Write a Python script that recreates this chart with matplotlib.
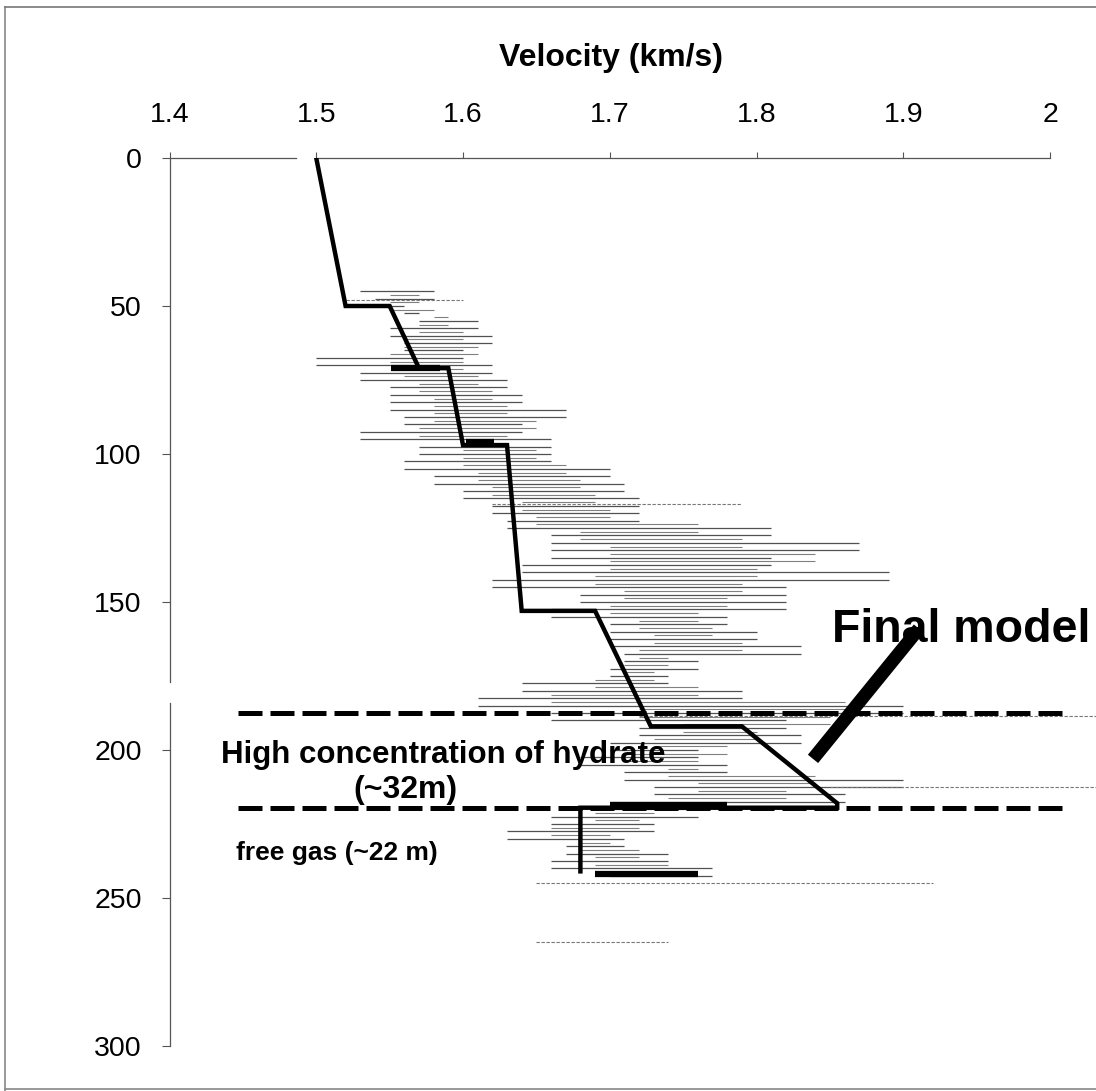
import matplotlib
matplotlib.use("Agg")
import matplotlib.pyplot as plt
from matplotlib.lines import Line2D

plt.rcParams['font.family'] = ['Liberation Sans', 'DejaVu Sans']

# ---- data ----
x_ticks = [1.4, 1.5, 1.6, 1.7, 1.8, 1.9, 2.0]
x_tick_labels = ['1.4', '1.5', '1.6', '1.7', '1.8', '1.9', '2']
y_ticks = [0, 50, 100, 150, 200, 250, 300]

# final velocity model (km/s vs depth m)
model_vel = [1.50, 1.52, 1.55, 1.57, 1.59, 1.60, 1.63, 1.64, 1.69, 1.728, 1.79, 1.855, 1.855, 1.68, 1.68]
model_depth = [0, 50, 50, 71, 71, 97, 97, 153, 153, 192, 192, 218, 219.5, 219.5, 241]

# measured velocity log trace (read from the scribbles)
log_depth = [45, 47.5, 50, 52.5, 55, 57.5, 60, 62.5, 65, 67.5, 70, 72.5, 75, 77.5,
             80, 82.5, 85, 87.5, 90, 92.5, 95, 97.5, 100, 102.5, 105, 107.5, 110,
             112.5, 115, 117.5, 120, 122.5, 125, 127.5, 130, 132.5, 135, 137.5, 140,
             142.5, 145, 147.5, 150, 152.5, 155, 157.5, 160, 162.5, 165, 167.5, 170,
             172.5, 175, 177.5, 180, 182.5, 185, 187.5, 190, 192.5, 195, 197.5, 200,
             202.5, 205, 207.5, 210, 212.5, 215, 217.5, 220, 222.5, 225, 227.5, 230,
             232.5, 235, 237.5, 240, 242.5, 245]
log_vel = [1.53, 1.58, 1.54, 1.56, 1.57, 1.61, 1.55, 1.62, 1.56, 1.60, 1.50, 1.62, 1.53, 1.63,
           1.55, 1.64, 1.55, 1.67, 1.56, 1.64, 1.53, 1.66, 1.57, 1.66, 1.56, 1.70, 1.58,
           1.71, 1.60, 1.72, 1.62, 1.72, 1.63, 1.81, 1.66, 1.87, 1.66, 1.81, 1.64,
           1.89, 1.62, 1.82, 1.68, 1.82, 1.66, 1.78, 1.70, 1.80, 1.70, 1.83, 1.71,
           1.76, 1.70, 1.74, 1.64, 1.79, 1.61, 1.90, 1.66, 1.82, 1.72, 1.83, 1.70,
           1.76, 1.68, 1.78, 1.71, 1.90, 1.73, 1.86, 1.70, 1.76, 1.66, 1.73, 1.63,
           1.71, 1.67, 1.74, 1.66, 1.77, 1.70]

# second, denser part of the log (in-between samples)
log2_depth = [46.25, 48.75, 51.25, 53.75, 56.25, 58.75, 61.25, 63.75, 66.25, 68.75,
              71.25, 73.75, 76.25, 78.75, 81.25, 83.75, 86.25, 88.75, 91.25, 93.75,
              96.25, 98.75, 101.25, 103.75, 106.25, 108.75, 111.25, 113.75, 116.25,
              118.75, 121.25, 123.75, 126.25, 128.75, 131.25, 133.75, 136.25, 138.75,
              141.25, 143.75, 146.25, 148.75, 151.25, 153.75, 156.25, 158.75, 161.25,
              163.75, 166.25, 168.75, 171.25, 173.75, 176.25, 178.75, 181.25, 183.75,
              186.25, 188.75, 191.25, 193.75, 196.25, 198.75, 201.25, 203.75, 206.25,
              208.75, 211.25, 213.75, 216.25, 218.75, 221.25, 223.75, 226.25, 228.75,
              231.25, 233.75, 236.25, 238.75, 241.25, 243.75]
log2_vel = [1.55, 1.57, 1.55, 1.58, 1.59, 1.57, 1.60, 1.56, 1.61, 1.55,
            1.60, 1.56, 1.61, 1.57, 1.62, 1.58, 1.63, 1.58, 1.65, 1.57,
            1.63, 1.60, 1.65, 1.60, 1.67, 1.61, 1.68, 1.62, 1.69,
            1.64, 1.70, 1.65, 1.76, 1.68, 1.79, 1.70, 1.84, 1.70,
            1.80, 1.69, 1.79, 1.71, 1.78, 1.70, 1.76, 1.72, 1.77,
            1.73, 1.79, 1.72, 1.74, 1.71, 1.73, 1.69, 1.76, 1.66,
            1.86, 1.72, 1.85, 1.75, 1.80, 1.73, 1.78, 1.71, 1.76,
            1.74, 1.84, 1.76, 1.82, 1.74, 1.73, 1.69, 1.72, 1.66,
            1.70, 1.68, 1.72, 1.69, 1.74, 1.72]

# faint long log streaks (depth, from, to)
faint_depth = [48, 117, 188.5, 212.5, 245, 265]
faint_from = [1.52, 1.62, 1.72, 1.85, 1.65, 1.65]
faint_to = [1.60, 1.79, 2.032, 2.032, 1.92, 1.74]

# dense dark log bands (depth, from, to)
bar_depth = [71, 96, 218.5, 242]
bar_from = [1.551, 1.602, 1.70, 1.69]
bar_to = [1.584, 1.621, 1.78, 1.76]

# interface depths (dashed) and their extent
interface_depth = [187.5, 219.5]
interface_from = 1.447
interface_to = 2.0135

# pointer for "Final model"
pointer_vel = [1.9107, 1.8385]
pointer_depth = [159, 203]

# ---- figure ----
W, H = 1096, 1091
fig = plt.figure(figsize=(W / 100, H / 100), dpi=100)
ax = fig.add_axes([169.5 / W, 1 - 1046 / H, 880.5 / W, 888 / H])
ax.set_xlim(1.4, 2.0)
ax.set_ylim(300, 0)
ax.xaxis.tick_top()
ax.set_xticks(x_ticks)
ax.set_xticklabels(x_tick_labels)
ax.set_yticks(y_ticks)
for s in ax.spines.values():
    s.set_visible(False)
ax.tick_params(axis='x', direction='out', length=4.5, width=0.8, color='#555',
               labelsize=20.5, pad=17)
ax.tick_params(axis='y', direction='out', length=6, width=0.8, color='#555',
               labelsize=20.5, pad=14)

# axis lines (scan has small gaps)
ax.plot([1.4, 1.486], [0, 0], color='#555', lw=0.9, clip_on=False)
ax.plot([1.5, 2.0], [0, 0], color='#555', lw=0.9, clip_on=False)
ax.plot([1.4, 1.4], [0, 177], color='#555', lw=0.9, clip_on=False)
ax.plot([1.4, 1.4], [184, 300], color='#555', lw=0.9, clip_on=False)

# log: horizontal strokes between consecutive samples
ax.hlines(log_depth[:-1], log_vel[:-1], log_vel[1:], color='#333', lw=0.9,
          alpha=0.85, zorder=2)
ax.hlines(log2_depth[:-1], log2_vel[:-1], log2_vel[1:], color='#555', lw=0.8,
          alpha=0.75, zorder=2)
ax.hlines(faint_depth, faint_from, faint_to, color='#777', lw=0.8,
          linestyles=(0, (3, 1.5)), clip_on=False, zorder=2)
ax.hlines(bar_depth, bar_from, bar_to, color='black', lw=4.5, zorder=3)

# model
ax.plot(model_vel, model_depth, color='black', lw=3.2, zorder=4,
        solid_joinstyle='miter')

# interfaces
for d in interface_depth:
    ax.plot([interface_from, interface_to], [d, d], color='black', lw=3.6,
            linestyle=(0, (4.8, 1.6)), dash_capstyle='butt', clip_on=False, zorder=4)

# pointer
ax.plot(pointer_vel, pointer_depth, color='black', lw=9.5,
        solid_capstyle='butt', zorder=5)

# texts
def ft(x, y, s, **kw):
    fig.text(x / W, 1 - y / H, s, **kw)

ft(611, 58, 'Velocity (km/s)', fontsize=23, fontweight='bold', ha='center', va='center')
ft(961, 630, 'Final model', fontsize=33.5, fontweight='bold', ha='center', va='center')
ft(443, 755, 'High concentration of hydrate', fontsize=22.5, fontweight='bold',
   ha='center', va='center')
ft(405, 790, '(~32m)', fontsize=23, fontweight='bold', ha='center', va='center')
ft(337, 853, 'free gas (~22 m)', fontsize=19, fontweight='bold', ha='center', va='center')

# page border from the scan
fig.add_artist(Line2D([5 / W, 5 / W], [0, 1 - 7 / H], color='#888', lw=1.2))
fig.add_artist(Line2D([5 / W, 1], [1 - 7 / H, 1 - 7 / H], color='#777', lw=1.2))
fig.add_artist(Line2D([5 / W, 1], [1 - 1089 / H, 1 - 1089 / H], color='#888', lw=1.2))

fig.savefig('out.png', dpi=100)
